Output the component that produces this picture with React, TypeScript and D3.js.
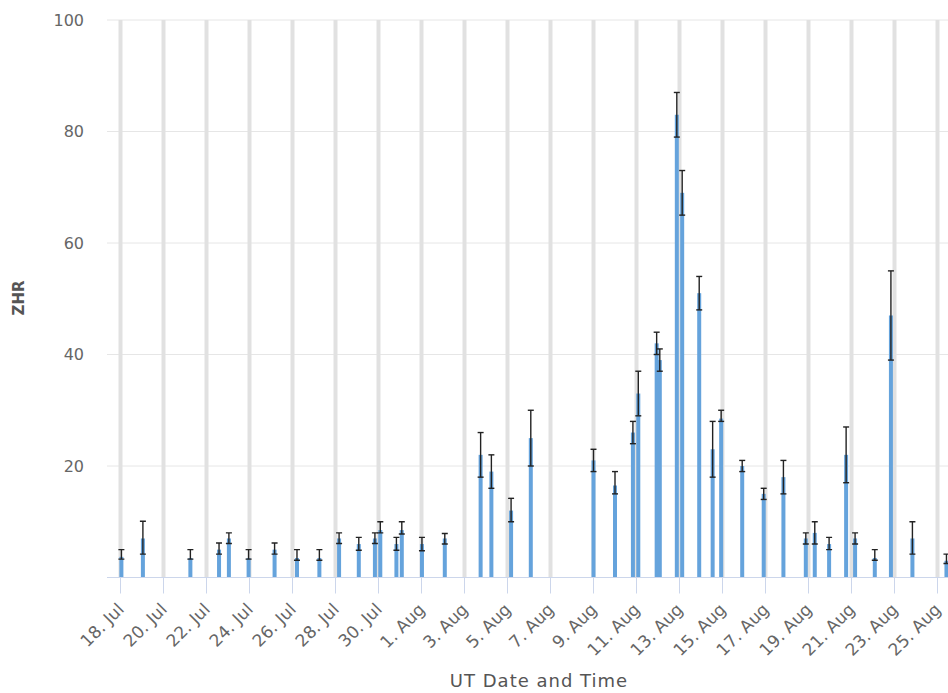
import React from 'react';
import * as d3 from 'd3';

// observation times (UT) and ZHR with lower / upper error
const obsTimes = [
  '2017-07-18T01:00Z', '2017-07-19T01:00Z', '2017-07-21T06:00Z', '2017-07-22T14:00Z',
  '2017-07-23T01:00Z', '2017-07-23T23:00Z', '2017-07-25T04:00Z', '2017-07-26T05:00Z',
  '2017-07-27T06:00Z', '2017-07-28T04:00Z', '2017-07-29T02:00Z', '2017-07-29T20:00Z',
  '2017-07-30T02:00Z', '2017-07-30T20:00Z', '2017-07-31T02:00Z', '2017-08-01T00:30Z',
  '2017-08-02T02:00Z', '2017-08-03T18:00Z', '2017-08-04T06:00Z', '2017-08-05T04:00Z',
  '2017-08-06T02:00Z', '2017-08-09T00:00Z', '2017-08-10T00:00Z', '2017-08-10T20:00Z',
  '2017-08-11T02:00Z', '2017-08-11T22:30Z', '2017-08-12T02:00Z', '2017-08-12T21:00Z',
  '2017-08-13T03:00Z', '2017-08-13T22:00Z', '2017-08-14T13:00Z', '2017-08-14T22:30Z',
  '2017-08-15T22:00Z', '2017-08-16T22:00Z', '2017-08-17T20:00Z', '2017-08-18T21:00Z',
  '2017-08-19T07:00Z', '2017-08-19T23:00Z', '2017-08-20T18:00Z', '2017-08-21T04:00Z',
  '2017-08-22T02:00Z', '2017-08-22T20:00Z', '2017-08-23T20:00Z', '2017-08-25T10:00Z',
];
const zhr = [
  3.7, 7, 3.5, 5, 7, 3.5, 5, 3.5, 3.5, 7, 6, 7, 8.5, 6, 8.5, 6,
  7, 22, 19, 12, 25, 21, 16.5, 26, 33, 42, 39, 83, 69, 51, 23, 28.5,
  20, 15, 18, 7, 8, 6, 22, 7, 3.5, 47, 7, 3,
];
const errLow = [
  3.3, 4.2, 3.3, 4.2, 6.1, 3.3, 4.2, 3.1, 3.1, 6.1, 4.9, 6.1, 8, 4.9, 7.8, 4.8,
  6, 18, 16, 10, 20, 19, 15, 24, 29, 40, 37, 79, 65, 48, 18, 28,
  19, 14, 15, 6, 6, 5, 17, 6, 3.1, 39, 4.2, 2.5,
];
const errHigh = [
  5, 10.1, 5, 6.2, 8, 5, 6.2, 5, 5, 8, 7.2, 8, 10, 7.2, 10, 7.2,
  7.9, 26, 22, 14.2, 30, 23, 19, 28, 37, 44, 41, 87, 73, 54, 28, 30,
  21, 16, 21, 8, 10, 7.2, 27, 8, 5, 55, 10, 4.2,
];
const tickDates = [
  '2017-07-18', '2017-07-20', '2017-07-22', '2017-07-24', '2017-07-26', '2017-07-28',
  '2017-07-30', '2017-08-01', '2017-08-03', '2017-08-05', '2017-08-07', '2017-08-09',
  '2017-08-11', '2017-08-13', '2017-08-15', '2017-08-17', '2017-08-19', '2017-08-21',
  '2017-08-23', '2017-08-25',
];
const yTicks = [20, 40, 60, 80, 100];

const W = 948;
const H = 693;
const left = 107;
const top = 20;
const bottom = 577.5;
const font = '"DejaVu Sans", Verdana, sans-serif';

export default function App() {
  const x = d3.scaleUtc()
    .domain([new Date('2017-07-18T00:00Z'), new Date('2017-08-25T00:00Z')])
    .range([120.5, 937.5]);
  const y = d3.scaleLinear().domain([0, 100]).range([bottom, top]);
  const fmt = d3.utcFormat('%-d. %b');
  const barW = 4;

  const data = obsTimes.map((t, i) => ({
    t: new Date(t), v: zhr[i], lo: errLow[i], hi: errHigh[i],
  }));

  return (
    <svg width={W} height={H} style={{ position: 'absolute', left: 0, top: 0, background: '#fff' }}>
      <defs>
        <clipPath id="plot">
          <rect x={left} y={0} width={W - left} height={bottom + 1} />
        </clipPath>
      </defs>
      {/* horizontal grid */}
      {yTicks.map(t => (
        <line key={'h' + t} x1={left} x2={W} y1={y(t)} y2={y(t)} stroke="#e6e6e6" strokeWidth={1} />
      ))}
      {/* vertical grid */}
      {tickDates.map(d => (
        <line key={'v' + d} x1={x(new Date(d))} x2={x(new Date(d))} y1={top} y2={bottom}
          stroke="#e1e1e1" strokeWidth={4} />
      ))}
      {/* columns */}
      <g clipPath="url(#plot)">
        {data.map((d, i) => (
          <rect key={'b' + i} x={x(d.t) - barW / 2} y={y(d.v)} width={barW} height={y(0) - y(d.v)}
            fill="#65a3dc" />
        ))}
        {data.map((d, i) => {
          const cx = x(d.t);
          return (
            <g key={'e' + i} stroke="#222" strokeWidth={1.4}>
              <line x1={cx} x2={cx} y1={y(d.hi)} y2={y(d.lo)} />
              <line x1={cx - 3} x2={cx + 3} y1={y(d.hi)} y2={y(d.hi)} />
              <line x1={cx - 3} x2={cx + 3} y1={y(d.lo)} y2={y(d.lo)} />
            </g>
          );
        })}
      </g>
      {/* x axis */}
      <line x1={left} x2={W} y1={bottom} y2={bottom} stroke="#ccd6eb" strokeWidth={1} />
      {tickDates.map(d => {
        const tx = x(new Date(d));
        return (
          <g key={'t' + d}>
            <line x1={tx} x2={tx} y1={bottom} y2={bottom + 16} stroke="#ccd6eb" strokeWidth={1} />
            <text transform={`translate(${tx + 4.5},${bottom + 33}) rotate(-45)`} textAnchor="end"
              fontFamily={font} fontSize={17} fill="#666">
              {fmt(new Date(d))}
            </text>
          </g>
        );
      })}
      {/* y axis labels */}
      {yTicks.map(t => (
        <text key={'yl' + t} x={84} y={y(t)} dy="0.35em" textAnchor="end" fontFamily={font}
          fontSize={16} fill="#666">{t}</text>
      ))}
      <text transform={`translate(24,298) rotate(-90)`} textAnchor="middle" fontFamily={font}
        fontSize={15} fontWeight="bold" fill="#555">ZHR</text>
      <text x={539} y={687} textAnchor="middle" fontFamily={font} fontSize={18} letterSpacing={1}
        fill="#555">UT Date and Time</text>
    </svg>
  );
}
